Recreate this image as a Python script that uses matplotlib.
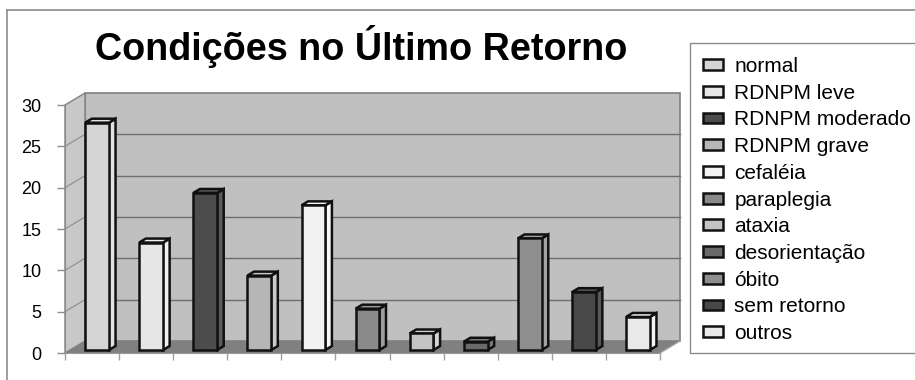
import matplotlib
matplotlib.use("Agg")
from matplotlib import pyplot as plt
from matplotlib.patches import Polygon, Patch, Rectangle
from matplotlib.lines import Line2D

plt.rcParams['font.family'] = ['Liberation Sans', 'DejaVu Sans']

# data
categorias = ['normal', 'RDNPM leve', 'RDNPM moderado', 'RDNPM grave', 'cefaléia',
              'paraplegia', 'ataxia', 'desorientação', 'óbito', 'sem retorno', 'outros']
valores = [27.5, 13, 19, 9, 17.5, 5, 2, 1, 13.5, 7, 4]
cores = ['#d4d4d4', '#e6e6e6', '#4c4c4c', '#b6b6b6', '#f2f2f2', '#8a8a8a',
         '#c4c4c4', '#6a6a6a', '#8e8e8e', '#484848', '#e9e9e9']
cores_lado = ['#e2e2e2', '#f0f0f0', '#5a5a5a', '#cacaca', '#f8f8f8', '#9c9c9c',
              '#d4d4d4', '#7c7c7c', '#a2a2a2', '#585858', '#f4f4f4']
titulo = 'Condições no Último Retorno'
yticks = [0, 5, 10, 15, 20, 25, 30]

W, H = 915, 380
fig = plt.figure(figsize=(W / 100, H / 100), dpi=100)

# front face of the 3d box
x0, y0, x1, y1 = 65, 27, 660, 275
ax = fig.add_axes([x0 / W, y0 / H, (x1 - x0) / W, (y1 - y0) / H])
n = len(categorias)
ax.set_xlim(0, n)
ax.set_ylim(0, 30)
ax.patch.set_visible(False)

# depth of the box in data units
DX = 20 / ((x1 - x0) / n)
DY = 12 / ((y1 - y0) / 30)

wall = '#c0c0c0'
side = '#c8c8c8'
floor = '#808080'
edge = '#808080'

# back wall, floor, side wall
ax.add_patch(Polygon([(DX, DY), (n + DX, DY), (n + DX, 30 + DY), (DX, 30 + DY)],
                     closed=True, fc=wall, ec=edge, lw=1.2, clip_on=False, zorder=1))
ax.add_patch(Polygon([(0, 0), (n, 0), (n + DX, DY), (DX, DY)],
                     closed=True, fc=floor, ec='none', clip_on=False, zorder=1))
ax.add_patch(Polygon([(0, 0), (DX, DY), (DX, 30 + DY), (0, 30)],
                     closed=True, fc=side, ec=edge, lw=1.0, clip_on=False, zorder=1))
for v in yticks[1:-1]:
    ax.add_line(Line2D([DX, n + DX], [v + DY, v + DY], color='#6e6e6e', lw=1.0, zorder=2, clip_on=False))
    ax.add_line(Line2D([0, DX], [v, v + DY], color='#8c8c8c', lw=0.8, zorder=2, clip_on=False))
ax.add_line(Line2D([n, n + DX], [0, DY], color='#a0a0a0', lw=1.0, zorder=2, clip_on=False))

# bars
f0, f1 = 0.25, 0.58
bw = 0.44
for i, (v, c, cl) in enumerate(zip(valores, cores, cores_lado)):
    xl = i + (1 - bw) / 2 + f0 * DX
    xr = xl + bw
    yb = f0 * DY
    ddx = (f1 - f0) * DX
    ddy = (f1 - f0) * DY
    kw = dict(closed=True, ec='#111111', lw=1.8, joinstyle='miter', clip_on=False, zorder=5)
    ax.add_patch(Polygon([(xr, yb), (xr + ddx, yb + ddy), (xr + ddx, yb + v + ddy), (xr, yb + v)], fc=cl, **kw))
    ax.add_patch(Polygon([(xl, yb + v), (xr, yb + v), (xr + ddx, yb + v + ddy), (xl + ddx, yb + v + ddy)], fc=cl, **kw))
    ax.add_patch(Polygon([(xl, yb), (xr, yb), (xr, yb + v), (xl, yb + v)], fc=c, **kw))

# axes styling
for s in ['top', 'right']:
    ax.spines[s].set_visible(False)
ax.spines['left'].set_color('#8c8c8c')
ax.spines['bottom'].set_color('#9a9a9a')
ax.spines['left'].set_zorder(3)
ax.spines['bottom'].set_zorder(3)
ax.set_yticks(yticks)
ax.set_xticks(range(n + 1))
ax.set_xticklabels([])
ax.tick_params(axis='y', length=6, width=1, color='#8c8c8c', pad=11, labelsize=13)
ax.tick_params(axis='x', length=5, width=1, color='#a0a0a0')

# title
fig.text(361 / W, 1 - 46 / H, titulo, ha='center', va='center', fontsize=27.2,
         fontweight='bold')

# outer frame (partial, cut by image border)
fig.add_artist(Line2D([7 / W, 1], [1 - 10 / H, 1 - 10 / H], color='#8c8c8c', lw=1.2))
fig.add_artist(Line2D([7 / W, 7 / W], [0, 1 - 10 / H], color='#8c8c8c', lw=1.2))

# legend
fig.add_artist(Rectangle((690 / W, 1 - 353 / H), 1, (353 - 43) / H, fc='white', ec='#8c8c8c', lw=1.0))
handles = [Patch(fc=c, ec='#111111', lw=1.8) for c in cores]
leg = fig.legend(handles, categorias, loc='upper left', bbox_to_anchor=(703 / W, 1 - 57 / H),
                 frameon=False, fontsize=15, handlelength=0.95, handleheight=0.42,
                 handletextpad=0.55, labelspacing=0.37, borderpad=0, borderaxespad=0)

fig.savefig('out.png', dpi=100)
